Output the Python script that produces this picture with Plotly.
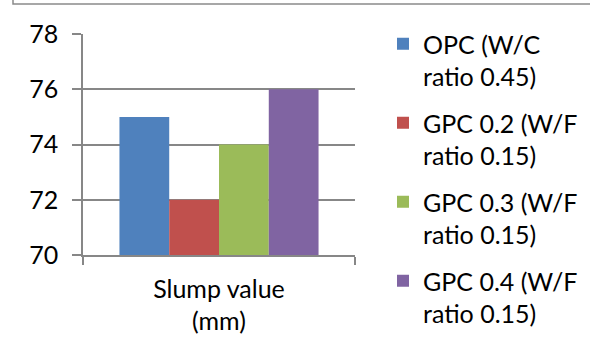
import plotly.graph_objects as go

categories = ["Slump value<br>(mm)"]
series_names = [
    "OPC (W/C<br>ratio 0.45)",
    "GPC 0.2 (W/F<br>ratio 0.15)",
    "GPC 0.3 (W/F<br>ratio 0.15)",
    "GPC 0.4 (W/F<br>ratio 0.15)",
]
series_values = [[75], [72], [74], [76]]
colors = ["#4F81BD", "#C0504D", "#9BBB59", "#8064A2"]
y_ticks = [70, 72, 74, 76, 78]

FONT = "Lato"
FS = 25
GRID = "#878787"

fig = go.Figure()
for i, (name, vals) in enumerate(zip(series_names, series_values)):
    fig.add_trace(go.Bar(
        x=categories, y=vals, name=name, marker_color=colors[i],
        marker_line_width=0, legendgroup=f"g{i}",
    ))

W, H = 590, 351
L, R, T, B = 83, 235, 34, 96
pw, ph = W - L - R, H - T - B

def px_x(x):
    return (x - L) / pw

def px_y(y):
    return (H - B - y) / ph

fig.update_layout(
    width=W, height=H,
    margin=dict(l=L, r=R, t=T, b=B, pad=0, autoexpand=False),
    paper_bgcolor="white", plot_bgcolor="white",
    barmode="group", bargap=0.268, bargroupgap=0,
    font=dict(family=FONT, size=FS, color="black"),
    showlegend=True,
    legend=dict(
        x=px_x(383), xanchor="left", y=px_y(21), yanchor="top",
        valign="top", traceorder="grouped", tracegroupgap=11,
        font=dict(family=FONT, size=FS, color="black"),
        bgcolor="rgba(0,0,0,0)", borderwidth=0, itemwidth=30,
        maxheight=348,
    ),
    xaxis=dict(
        type="category", showgrid=False, showline=True, linecolor=GRID, linewidth=1.5,
        ticks="outside", tickson="boundaries", ticklen=8, tickcolor=GRID, tickwidth=1.5,
        ticklabelstandoff=11,
    ),
    yaxis=dict(
        range=[70, 78], tickmode="array", tickvals=y_ticks,
        ticktext=[str(t) for t in y_ticks],
        showgrid=True, gridcolor=GRID, gridwidth=1.5,
        showline=True, linecolor=GRID, linewidth=1.5,
        ticks="outside", ticklen=9, tickcolor=GRID, tickwidth=1.5,
        ticklabelstandoff=9, zeroline=False,
    ),
    shapes=[dict(
        type="rect", xref="paper", yref="paper",
        x0=px_x(13), x1=px_x(600), y0=px_y(-20), y1=px_y(4),
        line=dict(color="#8a8a8a", width=1.5), fillcolor="rgba(0,0,0,0)", layer="below",
    )],
)

fig.write_html("out.html")
